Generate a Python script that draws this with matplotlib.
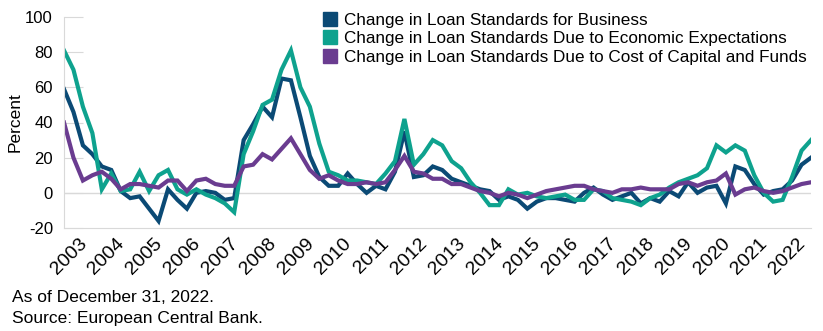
import matplotlib
matplotlib.use("Agg")
import matplotlib.pyplot as plt

plt.rcParams['font.family'] = ['Liberation Sans', 'DejaVu Sans']
plt.rcParams['axes.unicode_minus'] = False

# quarterly data, 2003 Q1 .. 2022 Q4
years = list(range(2003, 2023))

business = [59, 46, 27, 22, 15, 13, 1, -3, -2, -9, -16, 2, -4, -9, 0, 1, 0, -4, -3, 30,
            39, 49, 43, 65, 64, 43, 21, 9, 4, 4, 11, 5, 0, 4, 2, 12, 35, 9, 10, 15,
            13, 8, 6, 4, 2, 1, -4, -2, -4, -9, -5, -3, -3, -4, -5, 0, 3, -1, -4, -2,
            0, -6, -3, -5, 1, -2, 6, 0, 3, 4, -6, 15, 13, 5, -1, 1, 2, 7, 16, 20]

economic = [81, 70, 49, 34, 2, 11, 1, 2, 12, 1, 10, 13, 2, -1, 2, -1, -3, -6, -11, 22,
            35, 50, 53, 70, 81, 60, 49, 28, 12, 10, 7, 7, 6, 5, 11, 18, 42, 16, 22, 30,
            27, 18, 14, 6, 0, -7, -7, 2, -1, 0, -2, -3, -2, -1, -4, -4, 2, 1, -3, -4,
            -5, -7, -3, -1, 3, 6, 8, 10, 14, 27, 23, 27, 24, 10, 0, -5, -4, 9, 24, 30]

capital = [40, 20, 7, 10, 12, 8, 2, 5, 5, 4, 3, 7, 7, 1, 7, 8, 5, 4, 4, 15,
           16, 22, 19, 25, 31, 22, 13, 8, 10, 7, 5, 5, 6, 5, 6, 13, 21, 12, 11, 8,
           8, 5, 5, 3, 1, 0, -2, 0, -1, -3, -1, 1, 2, 3, 4, 4, 2, 1, 0, 2,
           2, 3, 2, 2, 2, 5, 6, 4, 6, 7, 11, -1, 2, 3, 1, 0, 1, 3, 5, 6]

labels = ['Change in Loan Standards for Business',
          'Change in Loan Standards Due to Economic Expectations',
          'Change in Loan Standards Due to Cost of Capital and Funds']
colors = ['#0b4a75', '#0ea28e', '#6a3c90']

fig = plt.figure(figsize=(8.23, 3.31), dpi=100)
ax = fig.add_axes([64/823, 1 - 228/331, 747/823, 211/331])

x = list(range(len(business)))
for series, lab, col in zip([business, economic, capital], labels, colors):
    ax.plot(x, series, color=col, lw=3, solid_joinstyle='miter', label=lab)

ax.set_xlim(0, len(business) - 1)
ax.set_ylim(-20, 100)
ax.set_yticks(range(-20, 101, 20))
ax.axhline(0, color='#d9d9d9', lw=1, zorder=0)

ax.set_xticks([4 * i + 1.5 for i in range(len(years))])
ax.set_xticklabels([str(y) for y in years], rotation=45, ha='right',
                   rotation_mode='anchor', fontsize=14)
ax.tick_params(axis='x', length=0, pad=5)
ax.tick_params(axis='y', direction='in', length=14, color='#d9d9d9', labelsize=12, pad=8)

for s in ['top', 'right']:
    ax.spines[s].set_visible(False)
for s in ['left', 'bottom']:
    ax.spines[s].set_color('#d9d9d9')

ax.set_ylabel('Percent', fontsize=12.5, labelpad=2)

handles = [plt.Line2D([], [], ls='none', marker='s', markersize=10, color=c) for c in colors]
fig.legend(handles, labels, loc='upper left', bbox_to_anchor=(315/823, 1 - 4/331),
           frameon=False, fontsize=12.3, handlelength=0.8, handletextpad=0.4,
           labelspacing=0.22, borderpad=0)

fig.text(12/823, 1 - 297/331, 'As of December 31, 2022.', fontsize=12.5, va='center')
fig.text(12/823, 1 - 318/331, 'Source: European Central Bank.', fontsize=12.5, va='center')

fig.savefig('out.png', dpi=100)
